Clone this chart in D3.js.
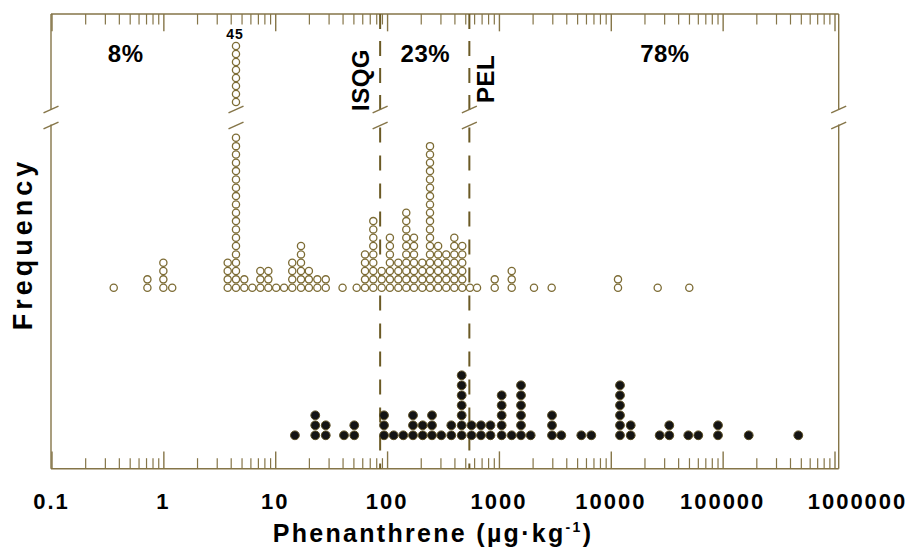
<!DOCTYPE html>
<html><head><meta charset="utf-8">
<script src="https://cdn.jsdelivr.net/npm/d3@7/dist/d3.min.js"></script>
<style>body{margin:0;background:#fff}svg{display:block}text{font-family:"Liberation Sans",Arial,sans-serif;font-weight:bold;fill:#000}</style>
</head><body><svg id="c" width="912" height="552"></svg>
<script>
// ---------- data ----------
// open circles: concentration of each dot column (µg/kg) and number of dots in it
const openValues = [0.36,0.72,1.0,1.2,3.76,4.46,5.29,6.24,7.36,8.68,10.2,12.0,14.2,17.0,20.0,23.8,28.3,40.0,53.5,63.5,75.3,89.5,106,126,148.5,174,206.5,242,286,338,399,470,551,637,917,1301,2058,2962,11600,26260,50330];
const openCounts = [1,2,4,1,4,45,2,1,3,3,1,1,4,6,3,2,2,1,1,5,9,3,7,4,10,7,4,18,6,5,7,6,1,1,2,3,1,1,2,1,1];
// filled circles
const filledValues = [15.0,22.8,28.3,41.2,50.9,93.9,114.6,139.6,170.5,208.2,252.1,305.2,375.1,464.6,568.5,691.3,840.4,1058,1301,1575,1923,2981,3610,5448,6695,12090,15070,27360,33340,49310,60570,90870,171000,474700];
const filledCounts = [1,3,2,1,2,3,1,1,3,2,3,1,2,7,2,2,2,5,1,6,1,3,1,1,1,6,2,1,2,1,1,2,1,1];
// axis
const tickValues = [0.1,1,10,100,1000,10000,100000,1000000];
const tickLabels = ["0.1","1","10","100","1000","10000","100000","1000000"];
// guideline values (ISQG, PEL) and labels
const guideValues = [86.7, 544];
const guideLabels = ["ISQG","PEL"];
// zone percentages
const zoneLabels = ["8%","23%","78%"];
const zoneAt = [0.46, 220, 30500];

// ---------- layout ----------
const frame = {left:51, right:838.7, top:14, bottom:468.7};
const brk = {up:110, low:124.5};           // gap in vertical lines
const slashY = [109.5, 125.5];
const frameColor = "#857548", dotColor = "#7d6c35", guideColor = "#6b5a25";

const svg = d3.select("#c");
const x = d3.scaleLog().domain([0.1, 1e6]).range([51.5, 834.5]);

// open-dot row scale with axis break: rows 0..18 below break, rows 37..44 above it
const yOpen = d3.scaleLinear().domain([0, 18, 37, 44]).range([287.7, 137.8, 102, 46]);
const hiddenRow = k => k > 18 && k < 37;
const yFilled = d3.scaleLinear().domain([0, 1]).range([435.3, 425.3]);

// ---------- frame ----------
const fg = svg.append("g").attr("stroke", frameColor).attr("stroke-width", 1.4).attr("fill", "none");
fg.append("line").attr("x1", frame.left).attr("x2", frame.right).attr("y1", frame.top).attr("y2", frame.top);
fg.append("line").attr("x1", frame.left).attr("x2", frame.right).attr("y1", frame.bottom).attr("y2", frame.bottom);
[frame.left, frame.right].forEach(xx => {
  fg.append("line").attr("x1", xx).attr("x2", xx).attr("y1", frame.top).attr("y2", brk.up);
  fg.append("line").attr("x1", xx).attr("x2", xx).attr("y1", brk.low).attr("y2", frame.bottom);
});

// ---------- ticks ----------
const minor = [];
tickValues.slice(0, -1).forEach(d => { for (let m = 2; m <= 9; m++) minor.push(d * m); });
function ticks(gen, size, y0) {
  const g = svg.append("g").attr("transform", `translate(0,${y0})`).call(gen.tickValues(minor).tickSize(size).tickFormat(""));
  g.select(".domain").remove();
  g.selectAll("line").attr("stroke", frameColor).attr("stroke-width", 1.2);
  const g2 = svg.append("g").attr("transform", `translate(0,${y0})`).call(gen.tickValues(tickValues).tickSize(size * 1.65).tickFormat(""));
  g2.select(".domain").remove();
  g2.selectAll("line").attr("stroke", frameColor).attr("stroke-width", 1.4);
}
ticks(d3.axisBottom(x), -10.5, frame.bottom);
ticks(d3.axisTop(x), -10.5, frame.top);

// tick labels
svg.append("g").selectAll("text").data(tickValues).join("text")
  .attr("x", (d, i) => x(d) + (i === tickValues.length - 1 ? 23 : 0))
  .attr("y", 508.5).attr("text-anchor", "middle")
  .style("font-size", "22px").style("letter-spacing", "2px")
  .text((d, i) => tickLabels[i]);

// ---------- guidelines ----------
guideValues.forEach((v, i) => {
  const gx = x(v);
  svg.append("line").attr("x1", gx).attr("x2", gx).attr("y1", frame.top).attr("y2", brk.up)
    .attr("stroke", guideColor).attr("stroke-width", 2).attr("stroke-dasharray", "15,12");
  svg.append("line").attr("x1", gx).attr("x2", gx).attr("y1", brk.low + 3).attr("y2", frame.bottom)
    .attr("stroke", guideColor).attr("stroke-width", 2).attr("stroke-dasharray", "15,13");
  svg.append("text").attr("transform", `translate(${gx + (i === 0 ? -11 : 25)},${i === 0 ? 80 : 79}) rotate(-90)`)
    .attr("text-anchor", "middle").style("font-size", "24px").style("letter-spacing", "0.5px")
    .text(guideLabels[i]);
});

// ---------- axis break slashes ----------
const bigIdx = openCounts.indexOf(d3.max(openCounts));
const slashX = [frame.left, frame.right, x(guideValues[0]), x(guideValues[1]), x(openValues[bigIdx])];
slashX.forEach(sx => slashY.forEach(sy => {
  svg.append("line").attr("x1", sx - 7.5).attr("x2", sx + 7.5).attr("y1", sy + 3.4).attr("y2", sy - 3.4)
    .attr("stroke", frameColor).attr("stroke-width", 1.5);
}));

// ---------- dots ----------
const openDots = [];
openValues.forEach((v, i) => { for (let k = 0; k < openCounts[i]; k++) if (!hiddenRow(k)) openDots.push({v, k}); });
svg.append("g").selectAll("circle").data(openDots).join("circle")
  .attr("cx", d => x(d.v)).attr("cy", d => yOpen(d.k)).attr("r", 3.6)
  .attr("fill", "#fff").attr("stroke", dotColor).attr("stroke-width", 1.3);

const filledDots = [];
filledValues.forEach((v, i) => { for (let k = 0; k < filledCounts[i]; k++) filledDots.push({v, k}); });
svg.append("g").selectAll("circle").data(filledDots).join("circle")
  .attr("cx", d => x(d.v)).attr("cy", d => yFilled(d.k)).attr("r", 4.4)
  .attr("fill", "#141414").attr("stroke", "#5c4e22").attr("stroke-width", 1);

// count label above the broken column
svg.append("text").attr("x", x(openValues[bigIdx]) - 1).attr("y", 39.3).attr("text-anchor", "middle")
  .style("font-size", "14px").style("letter-spacing", "1px").text(openCounts[bigIdx]);

// zone labels
svg.append("g").selectAll("text").data(zoneLabels).join("text")
  .attr("x", (d, i) => x(zoneAt[i])).attr("y", 61.7).attr("text-anchor", "middle")
  .style("font-size", "24px").style("letter-spacing", "0.5px").text(d => d);

// ---------- titles ----------
const xt = svg.append("text").attr("x", 433).attr("y", 542).attr("text-anchor", "middle")
  .style("font-size", "25px").style("letter-spacing", "2.3px");
xt.append("tspan").text("Phenanthrene (µg·kg");
xt.append("tspan").attr("dy", -10).style("font-size", "14px").text("-1");
xt.append("tspan").attr("dy", 10).text(")");

svg.append("text").attr("transform", "translate(32,244) rotate(-90)").attr("text-anchor", "middle")
  .style("font-size", "27px").style("letter-spacing", "4px").text("Frequency");
</script></body></html>
